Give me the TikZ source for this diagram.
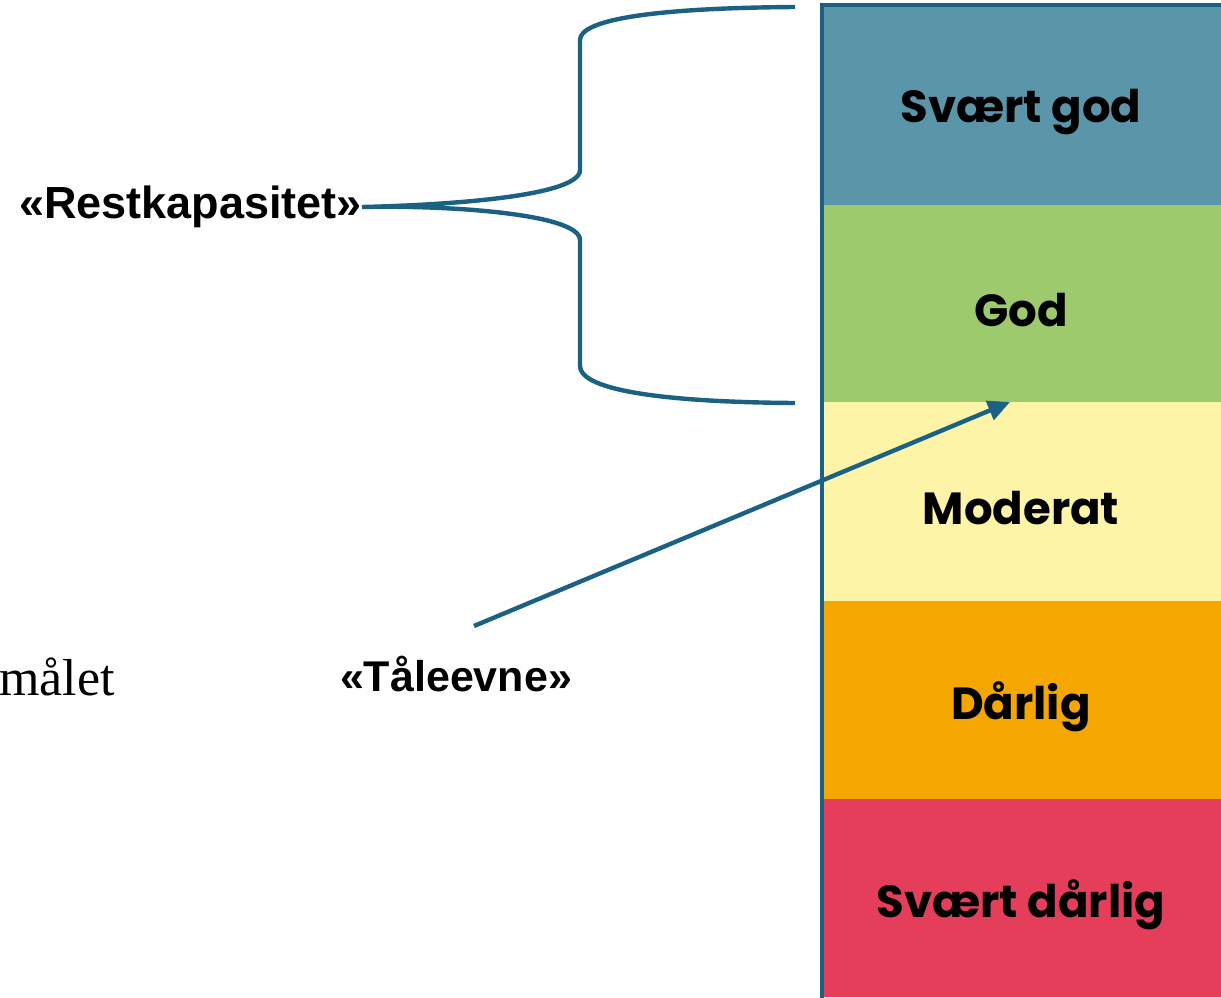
\documentclass[tikz,border=0pt]{standalone}
\usepackage{fontspec}
\usetikzlibrary{arrows.meta}
\newfontfamily\lblfont{Liberation Sans}
\newfontfamily\bandfont{Poppins}
\newfontfamily\serfont{Liberation Serif}
\definecolor{lineblue}{HTML}{1B6184}
\definecolor{cvgood}{HTML}{5B95A9}
\definecolor{cgood}{HTML}{9DCA6C}
\definecolor{cmod}{HTML}{FDF4A8}
\definecolor{cbad}{HTML}{F4A700}
\definecolor{cvbad}{HTML}{E43E5A}
\newcommand{\bandtext}[1]{\raisebox{-7pt}[\height][\depth]{#1}}
\tikzset{
  band/.style={rectangle, inner sep=0pt, minimum width=400pt, text=black,
    font=\bandfont\bfseries\fontsize{45}{50}\selectfont},
  biglabel/.style={inner sep=0pt, font=\lblfont\bfseries\fontsize{45}{50}\selectfont},
  conn/.style={draw=lineblue, line width=4.4pt},
}
\begin{document}
\begin{tikzpicture}[x=1pt,y=-1pt]
\useasboundingbox (0,0) rectangle (1221,997);
\begin{scope}
\clip (0,0) rectangle (1221,997);
% bands
\node[band, fill=cvgood, minimum height=200pt] (b1) at (1021,105) {\bandtext{Svært god}};
\node[band, fill=cgood, minimum height=197pt] (b2) at (1021,303.5) {\bandtext{God}};
\node[band, fill=cmod, minimum height=199pt] (b3) at (1021,501.5) {\bandtext{Moderat}};
\node[band, fill=cbad, minimum height=198pt] (b4) at (1021,700) {\bandtext{Dårlig}};
\node[band, fill=cvbad, minimum height=198pt] (b5) at (1021,898) {\bandtext{Svært dårlig}};
% bar border
\draw[lineblue, line width=4pt] (821.5,1000) -- (821.5,4.5) -- (1225,4.5);
\end{scope}
% labels
\node[biglabel, anchor=east] (rest) at (362,207) {«Restkapasitet»};
\node[biglabel, font=\lblfont\bfseries\fontsize{43}{48}\selectfont] (tale) at (456,674) {«Tåleevne»};
\node[inner sep=0pt, anchor=base west, font=\serfont\fontsize{52}{56}\selectfont] (maal) at (-1,695) {målet};
% brace
\coordinate (btop) at (795,7);
\coordinate (bbot) at (795,403);
\draw[conn, line cap=butt] (btop) .. controls (650,8) and (580,20) .. (580,40)
  -- (580,170) .. controls (580,196) and (450,205) .. (rest.east)
  .. controls (450,205) and (580,214) .. (580,240)
  -- (580,366) .. controls (580,388) and (650,402) .. (bbot);
% arrow
\coordinate (astart) at (474,626);
\coordinate (aend) at (1010,402);
\draw[conn, -{Triangle[length=22pt,width=20pt]}] (astart) -- (aend);
\end{tikzpicture}
\end{document}
